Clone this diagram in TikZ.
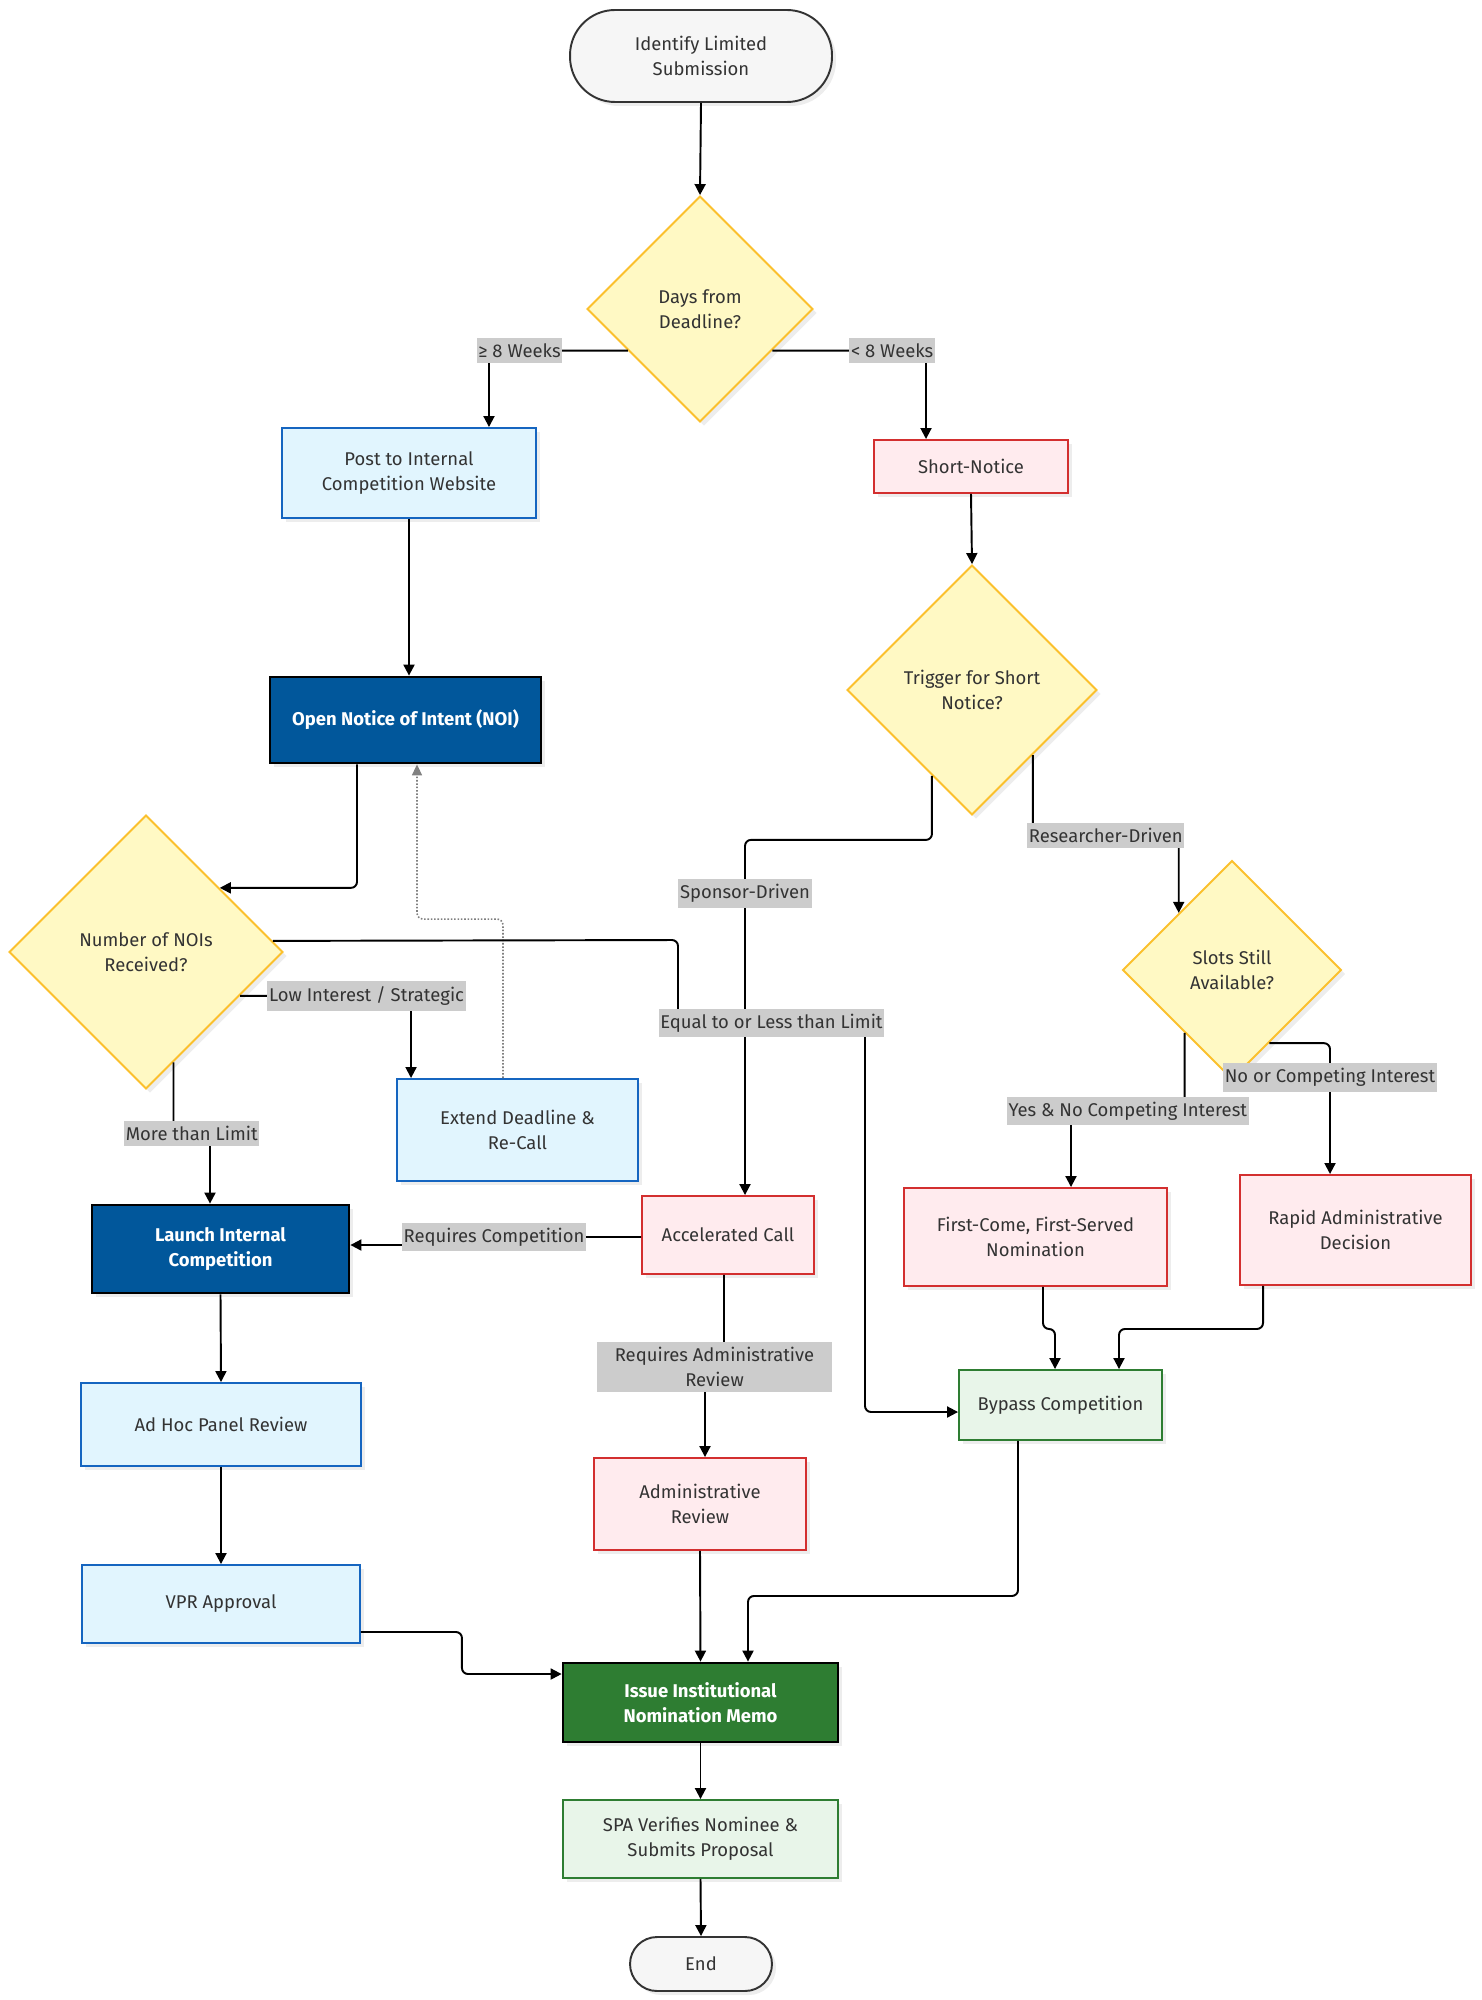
\documentclass[tikz,border=0pt]{standalone}
\usepackage{fontspec}
\setmainfont{Fira Sans}
\usetikzlibrary{arrows.meta, shapes.geometric, shadows}

\definecolor{textDark}{HTML}{333333}
\definecolor{termFill}{HTML}{F6F6F6}
\definecolor{termLine}{HTML}{333333}
\definecolor{decFill}{HTML}{FFF9C4}
\definecolor{decLine}{HTML}{FBC02D}
\definecolor{lightBlueFill}{HTML}{E1F5FE}
\definecolor{lightBlueLine}{HTML}{1565C0}
\definecolor{darkBlueFill}{HTML}{01579B}
\definecolor{pinkFill}{HTML}{FFEBEE}
\definecolor{pinkLine}{HTML}{D32F2F}
\definecolor{lightGreenFill}{HTML}{E8F5E9}
\definecolor{greenLine}{HTML}{2E7D32}
\definecolor{labelFill}{HTML}{CCCCCC}

\tikzset{
  baseBox/.style={draw, line width=1.1pt, align=center, text=textDark, inner sep=2pt,
    font=\fontsize{10.5}{14}\selectfont,
    drop shadow={shadow xshift=0.08cm, shadow yshift=-0.08cm, fill=black, opacity=0.07}},
  terminalBox/.style={baseBox, rounded corners=0.9cm, fill=termFill, draw=termLine},
  decisionBox/.style={baseBox, diamond, aspect=1, inner sep=0pt, fill=decFill, draw=decLine},
  lightBlueBox/.style={baseBox, fill=lightBlueFill, draw=lightBlueLine},
  darkBlueBox/.style={baseBox, fill=darkBlueFill, draw=black, line width=1.6pt, text=white, font=\fontsize{10.5}{14}\selectfont\bfseries},
  pinkBox/.style={baseBox, fill=pinkFill, draw=pinkLine},
  lightGreenBox/.style={baseBox, fill=lightGreenFill, draw=greenLine},
  darkGreenBox/.style={baseBox, fill=greenLine, draw=black, line width=1.6pt, text=white, font=\fontsize{10.5}{14}\selectfont\bfseries},
  % setas do fluxo
  flowArrow/.style={-{Triangle[length=0.22cm, width=0.22cm]}, line width=1.1pt, rounded corners=0.12cm, draw=black},
  backArrow/.style={-{Triangle[length=0.22cm, width=0.2cm]}, line width=0.9pt, densely dotted, rounded corners=0.12cm, draw=gray},
  edgeLabel/.style={fill=labelFill, text=textDark, font=\fontsize{10.5}{14}\selectfont, inner xsep=1pt, inner ysep=3pt, align=center, rounded corners=0pt}
}

\begin{document}
\begin{tikzpicture}[x=0.02cm, y=-0.02cm]
  \useasboundingbox (0,0) rectangle (1481,2000);

  %% --- PARTE 1: INICIO E PRAZO ---
  \node[terminalBox, minimum width=5.24cm, minimum height=1.84cm] (start) at (701,56) {Identify Limited\\Submission};
  \node[decisionBox, minimum width=4.52cm, minimum height=4.52cm] (d1) at (700,309) {Days from\\Deadline?};
  \node[lightBlueBox, minimum width=5.08cm, minimum height=1.8cm] (post) at (409,473) {Post to Internal\\Competition Website};
  \node[pinkBox, minimum width=3.88cm, minimum height=1.06cm] (short) at (971,466.5) {Short-Notice};

  %% --- PARTE 2: NOI E AVISO CURTO ---
  \node[darkBlueBox, minimum width=5.42cm, minimum height=1.72cm] (noi) at (405.5,720) {Open Notice of Intent (NOI)};
  \node[decisionBox, minimum width=5cm, minimum height=5cm] (d2) at (972,690) {Trigger for Short\\Notice?};
  \node[decisionBox, minimum width=5.48cm, minimum height=5.48cm] (d3) at (146,952) {Number of NOIs\\Received?};
  \node[decisionBox, minimum width=4.38cm, minimum height=4.38cm] (d4) at (1232,970) {Slots Still\\Available?};

  %% --- PARTE 3: CAMINHOS ---
  \node[lightBlueBox, minimum width=4.82cm, minimum height=2.04cm] (extend) at (517.5,1130) {Extend Deadline \&\\Re-Call};
  \node[darkBlueBox, minimum width=5.14cm, minimum height=1.76cm] (launch) at (220.5,1249) {Launch Internal\\Competition};
  \node[pinkBox, minimum width=3.44cm, minimum height=1.56cm] (accel) at (728,1235) {Accelerated Call};
  \node[pinkBox, minimum width=5.26cm, minimum height=1.96cm] (first) at (1035.5,1237) {First-Come, First-Served\\Nomination};
  \node[pinkBox, minimum width=4.62cm, minimum height=2.2cm] (rapid) at (1355.5,1230) {Rapid Administrative\\Decision};
  \node[lightBlueBox, minimum width=5.6cm, minimum height=1.66cm] (adhoc) at (221,1424.5) {Ad Hoc Panel Review};
  \node[lightGreenBox, minimum width=4.06cm, minimum height=1.4cm] (bypass) at (1060.5,1405) {Bypass Competition};
  \node[pinkBox, minimum width=4.24cm, minimum height=1.84cm] (admin) at (700,1504) {Administrative\\Review};
  \node[lightBlueBox, minimum width=5.56cm, minimum height=1.56cm] (vpr) at (221,1604) {VPR Approval};

  %% --- PARTE 4: FINAL ---
  \node[darkGreenBox, minimum width=5.5cm, minimum height=1.58cm] (issue) at (700.5,1702.5) {Issue Institutional\\Nomination Memo};
  \node[lightGreenBox, minimum width=5.5cm, minimum height=1.56cm] (spa) at (700.5,1839) {SPA Verifies Nominee \&\\Submits Proposal};
  \node[terminalBox, rounded corners=0.54cm, minimum width=2.84cm, minimum height=1.08cm] (endNode) at (701,1964) {End};

  %% --- SETAS ---
  \draw[flowArrow] (start.south) -- (d1.north);
  \draw[flowArrow] (d1.210) -| node[edgeLabel, pos=0.39] {≥ 8 Weeks} ([xshift=1.6cm]post.north);
  \draw[flowArrow] (d1.330) -| node[edgeLabel, pos=0.39] {< 8 Weeks} ([xshift=-0.9cm]short.north);
  \draw[flowArrow] (post.south) -- (post.south |- noi.north);
  \draw[flowArrow] (short.south) -- (d2.north);
  \draw[flowArrow] ([xshift=-0.97cm]noi.south) |- (d3.41);

  % ramos do aviso curto (antes, para ficar por baixo dos rotulos)
  \draw[flowArrow] (d2.245) -- ++(0,64) -| node[edgeLabel, pos=0.575] {Sponsor-Driven} ([xshift=0.34cm]accel.north);
  \draw[flowArrow] (d2.313) -- ++(0,80) -| node[edgeLabel, pos=0.25] {Researcher-Driven} (d4.133);
  \draw[flowArrow] (d4.233) -- ++(0,78) -| node[edgeLabel, pos=0.25] {Yes \& No Competing Interest} ([xshift=0.71cm]first.north);
  \draw[flowArrow] (d4.297) -| node[edgeLabel, pos=0.63] {No or Competing Interest} ([xshift=-0.51cm]rapid.north);

  % ramos do numero de NOIs
  \draw[flowArrow] (d3.335) -| node[edgeLabel, pos=0.37] {Low Interest / Strategic} ([xshift=-2.13cm]extend.north);
  \draw[backArrow] ([xshift=-0.29cm]extend.north) -- ++(0,-159) -| ([xshift=0.23cm]noi.south);
  \draw[flowArrow] (d3.284) -- ++(0,71) -| node[edgeLabel, pos=0.25] {More than Limit} ([xshift=-0.21cm]launch.north);
  \draw[flowArrow] (d3.5) -- (678,940) -- (678,1023) -- node[edgeLabel] {Equal to or Less than Limit} (865,1023) |- ([yshift=-0.14cm]bypass.west);

  % chamada acelerada
  \draw[flowArrow] ([yshift=-0.04cm]accel.west) -- ++(-147,0) node[edgeLabel] {Requires Competition} |- ([yshift=0.08cm]launch.east);
  \draw[flowArrow] ([xshift=-0.08cm]accel.south) -- ++(0,92) -| node[edgeLabel, pos=0.25, inner xsep=10pt] {Requires Administrative\\Review} ([xshift=0.1cm]admin.north);

  % caminho da competicao
  \draw[flowArrow] (launch.south) -- (adhoc.north);
  \draw[flowArrow] (adhoc.south) -- (vpr.north);
  \draw[flowArrow] ([yshift=-0.56cm]vpr.east) -- ++(101,0) |- ([yshift=0.57cm]issue.west);

  % ate o memorando
  \draw[flowArrow] (admin.south) -- (issue.north);
  \draw[flowArrow] ([xshift=0.15cm]first.south) -- ++(0,42) -| ([xshift=-0.11cm]bypass.north);
  \draw[flowArrow] ([xshift=-1.85cm]rapid.south) -- ++(0,43) -| ([xshift=1.17cm]bypass.north);
  \draw[flowArrow] ([xshift=-0.85cm]bypass.south) -- ++(0,155) -| ([xshift=0.95cm]issue.north);
  \draw[flowArrow] (issue.south) -- (spa.north);
  \draw[flowArrow] (spa.south) -- (endNode.north);
\end{tikzpicture}
\end{document}
